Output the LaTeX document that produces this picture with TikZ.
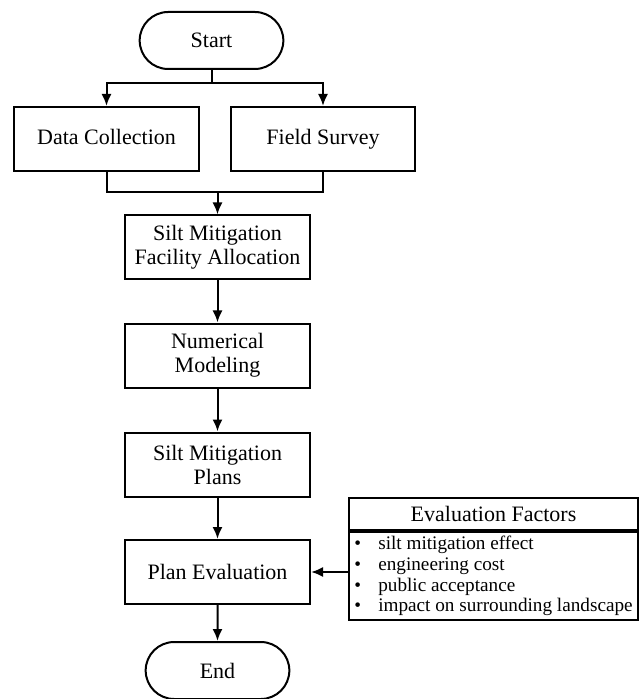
\documentclass[tikz,border=0pt]{standalone}
\usepackage{fontspec}
\setmainfont{Liberation Serif}
\usetikzlibrary{arrows.meta}
\usetikzlibrary{positioning}
\usetikzlibrary{shapes.misc}
\tikzset{flowbox/.style={draw,line width=1pt,minimum width=92.5pt,minimum height=32pt,align=center,inner sep=2pt,font=\fontsize{11}{12}\selectfont}}
\tikzset{terminal/.style={draw,rounded rectangle,line width=1pt,minimum width=78.5pt,minimum height=28.5pt,font=\fontsize{11}{12}\selectfont}}
\tikzset{flow/.style={line width=1pt,-{Latex[length=6pt,width=5pt]}}}
\tikzset{link/.style={line width=1pt}}
\newcommand\factoritem[1]{\makebox[12pt][l]{\textbullet}#1}

\begin{document}
\begin{tikzpicture}[x=0.5pt,y=-0.5pt]
    \useasboundingbox (0,0) rectangle (638,699);
    % main column
    \node[terminal] (start) at (211.5,40.5) {Start};
    \node[flowbox,text height=8pt,text depth=2.5pt] (data) at (106.5,139) {Data Collection};
    \node[flowbox,text height=8pt,text depth=2.5pt,minimum width=92pt] (field) at (323,139) {Field Survey};
    \node[flowbox] (alloc) at (217.5,247.5) {Silt Mitigation\\Facility Allocation};
    \node[flowbox] (model) at (217.5,355.5) {Numerical\\Modeling};
    \node[flowbox] (plans) at (217.5,464.5) {Silt Mitigation\\Plans};
    \node[flowbox] (evalplan) at (217.5,572) {Plan Evaluation};
    \node[terminal] (finish) at (217.5,670.5) {End};
    % evaluation factors
    \node[draw,line width=1pt,anchor=north west,minimum width=144.5pt,minimum height=16pt,inner sep=1pt,font=\fontsize{11}{12}\selectfont] (fhead) at (348,497) {Evaluation Factors};
    \node[draw,line width=1pt,anchor=north west,minimum width=144.5pt,minimum height=44pt,inner sep=1pt,align=left,font=\fontsize{9.6}{10.4}\selectfont] (flist) at (fhead.south west) {%
        \factoritem{silt mitigation effect}\\
        \factoritem{engineering cost}\\
        \factoritem{public acceptance}\\
        \factoritem{impact on surrounding landscape}};
    % connectors
    \coordinate (split) at (211.5,83);
    \coordinate (merge) at (217.5,192);
    \draw[link] (start.south) -- (split);
    \draw[flow] (split) -| (data.north);
    \draw[flow] (split) -| (field.north);
    \draw[link] (data.south) |- (merge);
    \draw[link] (field.south) |- (merge);
    \draw[flow] (merge) -- (alloc.north);
    \draw[flow] (alloc) -- (model);
    \draw[flow] (model) -- (plans);
    \draw[flow] (plans) -- (evalplan);
    \draw[flow] (evalplan) -- (finish);
    \draw[flow] (flist.west |- evalplan.east) -- (evalplan.east);
\end{tikzpicture}
\end{document}
